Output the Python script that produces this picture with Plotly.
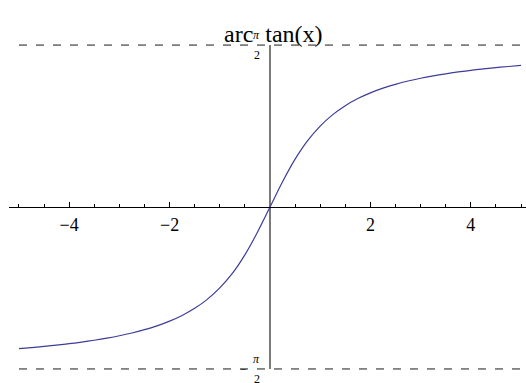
import math
import plotly.graph_objects as go

# Sampled arc tangent curve, x in [-5, 5]
xs = [-5.0, -4.75, -4.5, -4.25, -4.0, -3.75, -3.5, -3.25, -3.0, -2.75, -2.5,
      -2.25, -2.0, -1.75, -1.5, -1.25, -1.0, -0.75, -0.5, -0.25, 0.0,
      0.25, 0.5, 0.75, 1.0, 1.25, 1.5, 1.75, 2.0, 2.25, 2.5, 2.75, 3.0,
      3.25, 3.5, 3.75, 4.0, 4.25, 4.5, 4.75, 5.0]
ys = [-1.373, -1.363, -1.352, -1.339, -1.326, -1.310, -1.292, -1.272, -1.249,
      -1.222, -1.190, -1.153, -1.107, -1.052, -0.983, -0.896, -0.785, -0.644,
      -0.464, -0.245, 0.0,
      0.245, 0.464, 0.644, 0.785, 0.896, 0.983, 1.052, 1.107, 1.153, 1.190,
      1.222, 1.249, 1.272, 1.292, 1.310, 1.326, 1.339, 1.352, 1.363, 1.373]

x_ticks = [-4, -2, 2, 4]
x_tick_labels = ["\u22124", "\u22122", "2", "4"]
x_minor = [-5, -4.5, -3.5, -3, -2.5, -1.5, -1, -0.5, 0.5, 1, 1.5, 2.5, 3,
           3.5, 4.5, 5]
asymptotes = [math.pi / 2, -math.pi / 2]
x_span = [-5, 5]

SERIF = "Liberation Serif"
X_RANGE = [-5.199, 5.0996]
Y_RANGE = [-1.707, 2.008]

fig = go.Figure()

# dashed asymptotes
for a in asymptotes:
    fig.add_trace(go.Scatter(x=x_span, y=[a, a], mode="lines",
                             line=dict(color="#1a1a1a", width=1, dash="8px,9px"),
                             hoverinfo="skip", showlegend=False))

# vertical axis between the asymptotes
fig.add_trace(go.Scatter(x=[0, 0], y=asymptotes, mode="lines",
                         line=dict(color="#7a7a7a", width=2),
                         hoverinfo="skip", showlegend=False))

# the curve
fig.add_trace(go.Scatter(x=xs, y=ys, mode="lines", line_shape="spline",
                         line=dict(color="#3d3d99", width=1.2),
                         showlegend=False))

ypos = (0 - Y_RANGE[0]) / (Y_RANGE[1] - Y_RANGE[0])

fig.update_layout(
    width=526, height=383,
    margin=dict(l=0, r=0, t=0, b=0),
    paper_bgcolor="white", plot_bgcolor="white",
    font=dict(family=SERIF),
    xaxis=dict(range=X_RANGE, domain=[9 / 526, 1], anchor="free",
               position=ypos, showgrid=False, zeroline=False,
               showline=True, linecolor="black", linewidth=1,
               tickmode="array", tickvals=x_ticks, ticktext=x_tick_labels,
               ticks="inside", ticklen=5, tickcolor="black", tickwidth=1,
               ticklabelstandoff=1,
               tickfont=dict(family=SERIF, size=18, color="black"),
               minor=dict(tickmode="array", tickvals=x_minor, ticks="inside",
                          ticklen=3, tickcolor="black", tickwidth=1,
                          showgrid=False)),
    yaxis=dict(range=Y_RANGE, visible=False),
)

# title (drawn first so the pi label sits on top of it)
fig.add_annotation(x=273.5 / 526, y=1 - 19 / 383, xref="paper", yref="paper",
                   text="arc\u2002tan(x)", showarrow=False,
                   font=dict(family=SERIF, size=24, color="black"))

# fraction labels for +/- pi/2
lab_font = dict(family=SERIF, size=12, color="black")
for a in asymptotes:
    fig.add_annotation(x=-0.26, y=a, text="<i>\u03c0</i>", showarrow=False,
                       yshift=10, font=lab_font)
    fig.add_annotation(x=-0.26, y=a, text="2", showarrow=False,
                       yshift=-10, font=lab_font)
fig.add_annotation(x=-0.52, y=-math.pi / 2, text="\u2212", showarrow=False,
                   font=lab_font)

fig.write_html("out.html")
